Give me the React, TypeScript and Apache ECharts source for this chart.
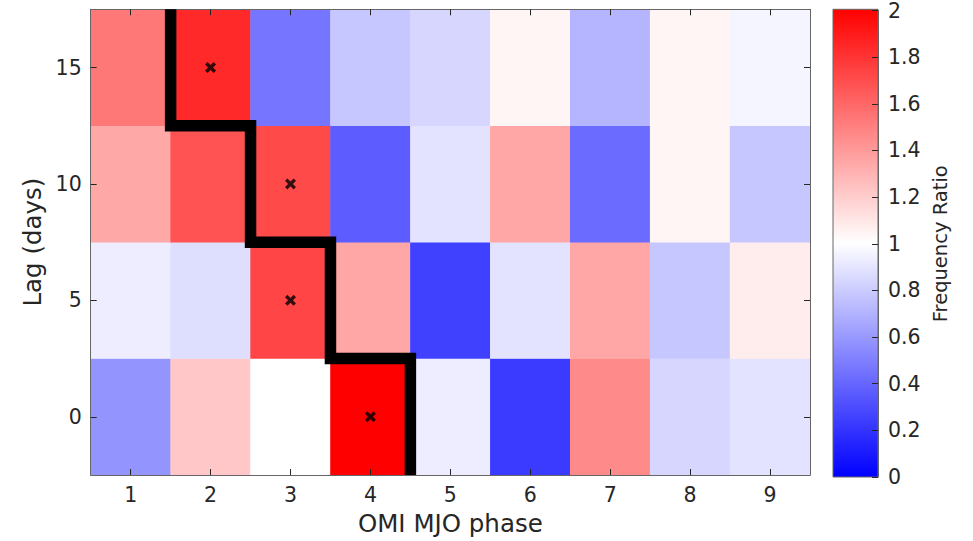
import React, { useEffect, useRef } from "react";
import * as echarts from "echarts";

const phases = ["1", "2", "3", "4", "5", "6", "7", "8", "9"];
const lags = ["0", "5", "10", "15"];
// frequency ratio per phase, one array per lag
const lag0 = [0.58, 1.22, 1.0, 2.0, 0.93, 0.23, 1.46, 0.84, 0.89];
const lag5 = [0.93, 0.87, 1.73, 1.35, 0.25, 0.89, 1.35, 0.78, 1.07];
const lag10 = [1.34, 1.68, 1.71, 0.36, 0.89, 1.35, 0.42, 1.04, 0.78];
const lag15 = [1.53, 1.84, 0.46, 0.78, 0.84, 1.04, 0.71, 1.04, 0.96];
const rows = [lag0, lag5, lag10, lag15];

// staircase boundary (phase, lag)
const boundaryPhase = [1.5, 1.5, 2.5, 2.5, 3.5, 3.5, 4.5, 4.5];
const boundaryLag = [17.5, 12.5, 12.5, 7.5, 7.5, 2.5, 2.5, -2.5];

// x markers
const markPhase = [2, 3, 3, 4];
const markLag = [15, 10, 5, 0];

const cbMin = 0;
const cbMax = 2;
const cbInterval = 0.2;

const FONT = "DejaVu Sans";
const TXT = "#262626";
const AX = "#666666";

export default function App() {
  const ref = useRef<HTMLDivElement>(null);
  useEffect(() => {
    if (!ref.current) return;
    const chart = echarts.init(ref.current, undefined, { renderer: "svg" });
    const heat: number[][] = [];
    rows.forEach((r, yi) => r.forEach((v, xi) => heat.push([xi, yi, v])));
    const stair = boundaryPhase.map((x, i) => [x, boundaryLag[i]]);
    const marks = markPhase.map((x, i) => [x, markLag[i]]);

    const left = 90.7, top = 9.3, width = 719.3, height = 467.7;
    const cbLeft = 833, cbWidth = 45;

    const lbl = { fontFamily: FONT, fontSize: 20.5, color: TXT };
    const line = { show: true, onZero: false, lineStyle: { color: AX, width: 1 } };
    const tick = { show: true, inside: true, length: 6, alignWithLabel: true, lineStyle: { color: TXT } };
    chart.setOption({
      animation: false,
      backgroundColor: "#ffffff",
      grid: [
        { left, top, width, height },
        { left: cbLeft, top, width: cbWidth, height },
      ],
      visualMap: {
        show: false,
        type: "continuous",
        min: cbMin,
        max: cbMax,
        seriesIndex: 0,
        inRange: { color: ["#0000ff", "#ffffff", "#ff0000"] },
      },
      xAxis: [
        {
          type: "category",
          data: phases,
          gridIndex: 0,
          position: "bottom",
          z: 5,
          axisLine: line,
          axisTick: tick,
          axisLabel: { ...lbl, margin: 9 },
          name: "OMI MJO phase",
          nameLocation: "middle",
          nameGap: 36,
          nameTextStyle: { fontFamily: FONT, fontSize: 24.5, color: TXT },
        },
        {
          type: "category",
          data: phases,
          gridIndex: 0,
          position: "top",
          z: 5,
          axisLine: line,
          axisTick: tick,
          axisLabel: { show: false },
        },
        { type: "value", min: 0.5, max: 9.5, gridIndex: 0, show: false, splitLine: { show: false } },
        { type: "category", data: [""], gridIndex: 1, show: false },
      ],
      yAxis: [
        {
          type: "category",
          data: lags,
          gridIndex: 0,
          position: "left",
          z: 5,
          axisLine: line,
          axisTick: tick,
          axisLabel: { ...lbl, margin: 9 },
          name: "Lag (days)",
          nameLocation: "middle",
          nameRotate: 90,
          nameGap: 45,
          nameTextStyle: { fontFamily: FONT, fontSize: 24.5, color: TXT },
        },
        {
          type: "category",
          data: lags,
          gridIndex: 0,
          position: "right",
          z: 5,
          axisLine: line,
          axisTick: tick,
          axisLabel: { show: false },
        },
        { type: "value", min: -2.5, max: 17.5, gridIndex: 0, show: false, splitLine: { show: false } },
        {
          type: "value",
          min: cbMin,
          max: cbMax,
          interval: cbInterval,
          gridIndex: 1,
          position: "right",
          z: 5,
          splitLine: { show: false },
          axisLine: line,
          axisTick: { show: true, inside: true, length: 6, lineStyle: { color: TXT } },
          axisLabel: { ...lbl, margin: 10 },
          name: "Frequency Ratio",
          nameLocation: "middle",
          nameRotate: 90,
          nameGap: 52,
          nameTextStyle: { fontFamily: FONT, fontSize: 19.5, color: TXT },
        },
      ],
      graphic: [
        {
          type: "rect",
          z: 1,
          shape: { x: cbLeft, y: top, width: cbWidth, height },
          style: {
            fill: new echarts.graphic.LinearGradient(0, 0, 0, 1, [
              { offset: 0, color: "#ff0000" },
              { offset: 0.5, color: "#ffffff" },
              { offset: 1, color: "#0000ff" },
            ]),
            stroke: AX,
            lineWidth: 1,
          },
        },
      ],
      series: [
        {
          type: "heatmap",
          xAxisIndex: 0,
          yAxisIndex: 0,
          data: heat,
          z: 2,
          itemStyle: { borderWidth: 0 },
          emphasis: { disabled: true },
        },
        {
          type: "line",
          xAxisIndex: 2,
          yAxisIndex: 2,
          data: stair,
          z: 6,
          symbol: "none",
          clip: false,
          lineStyle: { color: "#000000", width: 11.5, cap: "butt", join: "miter" },
          silent: true,
        },
        {
          type: "scatter",
          xAxisIndex: 2,
          yAxisIndex: 2,
          data: marks,
          z: 7,
          symbol: "path://M0,2.2L2.2,0L5,2.8L7.8,0L10,2.2L7.2,5L10,7.8L7.8,10L5,7.2L2.2,10L0,7.8L2.8,5Z",
          symbolSize: 11,
          itemStyle: { color: "#000000" },
          silent: true,
        },
      ],
    });
    return () => chart.dispose();
  }, []);
  return (
    <div
      ref={ref}
      style={{ position: "absolute", left: 0, top: 0, width: 973, height: 541, background: "#fff" }}
    />
  );
}
